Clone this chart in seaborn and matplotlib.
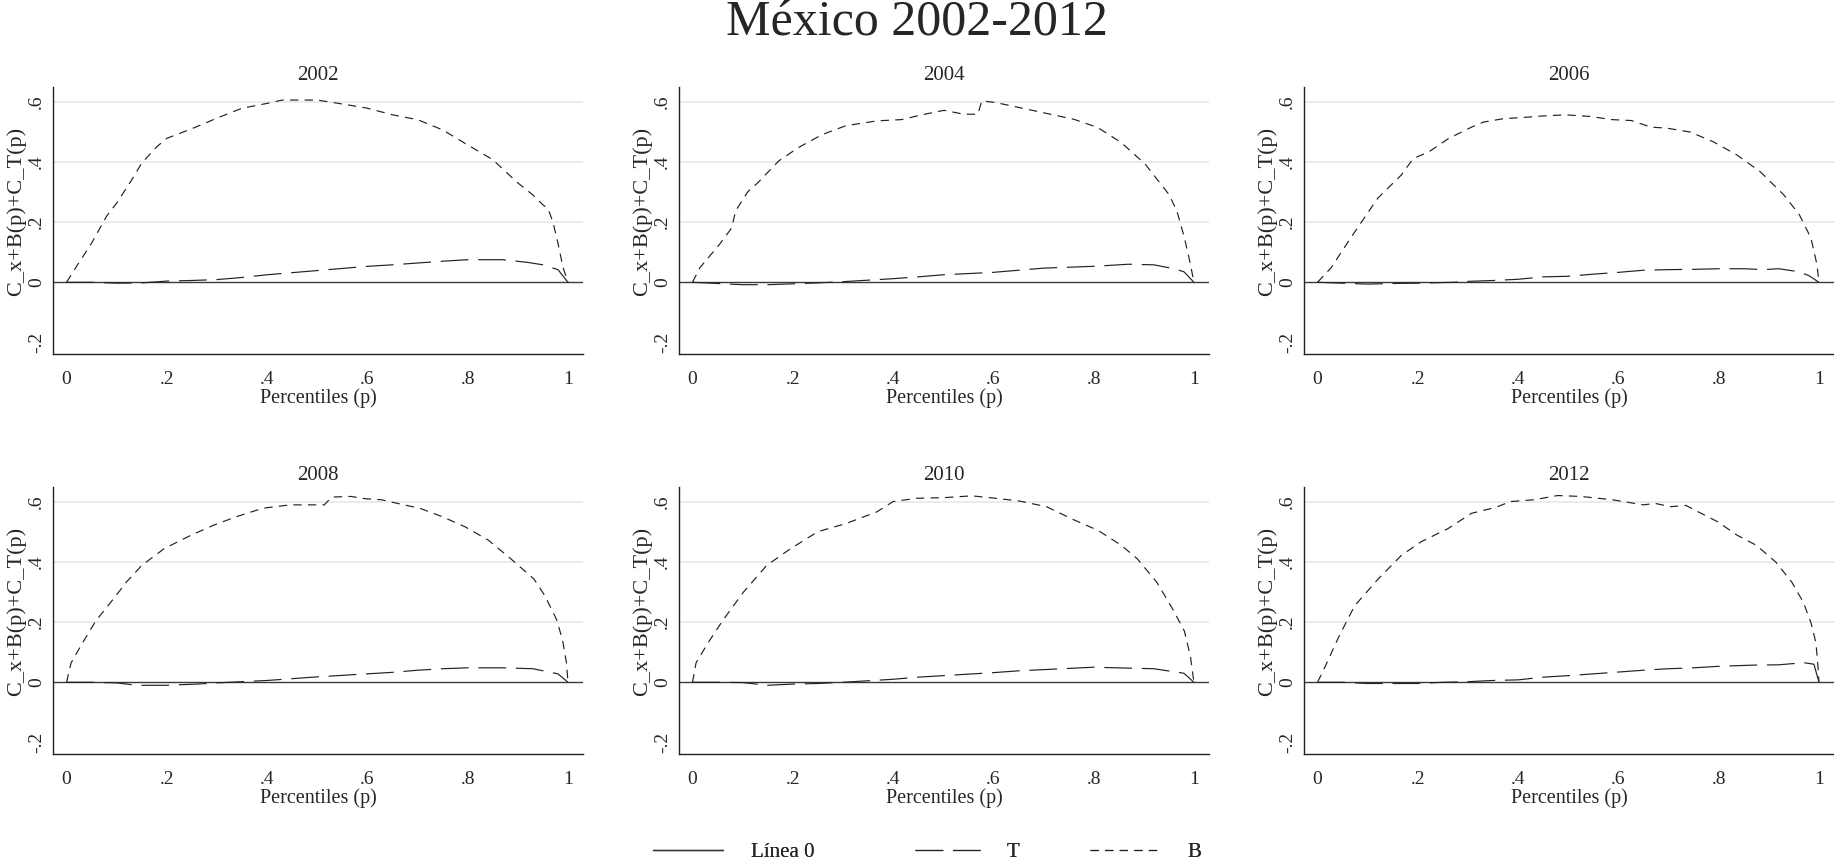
import matplotlib
matplotlib.use("Agg")
import matplotlib.pyplot as plt
import seaborn as sns
import pandas as pd
from matplotlib.lines import Line2D

# ---------------- data ----------------
years = ["2002", "2004", "2006", "2008", "2010", "2012"]

p_b_2002 = [0, 0.02, 0.05, 0.08, 0.1, 0.13, 0.15, 0.18, 0.2, 0.25, 0.3, 0.35, 0.4, 0.43, 0.5, 0.55,
            0.6, 0.65, 0.7, 0.75, 0.8, 0.85, 0.9, 0.93, 0.95, 0.96, 0.97, 0.98, 0.99, 1.0]
b_2002 = [0, 0.053, 0.13, 0.22, 0.263, 0.34, 0.396, 0.45, 0.478, 0.51, 0.545, 0.578, 0.594, 0.605, 0.605, 0.592,
          0.578, 0.556, 0.54, 0.506, 0.456, 0.407, 0.33, 0.29, 0.257, 0.245, 0.2, 0.13, 0.05, 0]
p_t_2002 = [0, 0.05, 0.1, 0.15, 0.2, 0.25, 0.3, 0.35, 0.4, 0.45, 0.5, 0.55, 0.6, 0.65, 0.7, 0.75, 0.8,
            0.87, 0.92, 0.95, 0.98, 1.0]
t_2002 = [0, 0, -0.003, -0.002, 0.004, 0.006, 0.009, 0.016, 0.025, 0.032, 0.039, 0.046, 0.053, 0.058, 0.064,
          0.07, 0.075, 0.075, 0.066, 0.058, 0.042, 0]

p_b_2004 = [0, 0.015, 0.054, 0.078, 0.086, 0.11, 0.13, 0.172, 0.211, 0.258, 0.306, 0.368, 0.416, 0.463, 0.502,
            0.541, 0.569, 0.577, 0.604, 0.683, 0.761, 0.808, 0.855, 0.903, 0.934, 0.95, 0.966, 0.981, 0.993, 1.0]
b_2004 = [0, 0.049, 0.126, 0.18, 0.237, 0.30, 0.33, 0.403, 0.447, 0.49, 0.52, 0.536, 0.54, 0.558, 0.571,
          0.558, 0.558, 0.602, 0.597, 0.569, 0.541, 0.514, 0.464, 0.392, 0.326, 0.292, 0.237, 0.148, 0.06, 0]
p_t_2004 = [0, 0.05, 0.1, 0.15, 0.2, 0.25, 0.3, 0.35, 0.4, 0.45, 0.5, 0.55, 0.6, 0.65, 0.7, 0.75, 0.8,
            0.87, 0.92, 0.96, 0.98, 1.0]
t_2004 = [0, -0.004, -0.008, -0.008, -0.005, -0.002, 0.002, 0.007, 0.012, 0.018, 0.025, 0.029, 0.033, 0.04,
          0.047, 0.05, 0.053, 0.06, 0.058, 0.045, 0.035, 0]

p_b_2006 = [0, 0.027, 0.066, 0.12, 0.167, 0.191, 0.222, 0.261, 0.307, 0.331, 0.37, 0.416, 0.447, 0.494, 0.541,
            0.588, 0.626, 0.665, 0.696, 0.743, 0.79, 0.837, 0.883, 0.93, 0.961, 0.984, 0.996, 1.0]
b_2006 = [0, 0.048, 0.147, 0.279, 0.356, 0.411, 0.433, 0.477, 0.515, 0.532, 0.543, 0.548, 0.552, 0.556, 0.551,
          0.54, 0.537, 0.515, 0.512, 0.499, 0.466, 0.422, 0.367, 0.29, 0.224, 0.147, 0.059, 0]
p_t_2006 = [0, 0.05, 0.1, 0.15, 0.2, 0.27, 0.3, 0.35, 0.4, 0.45, 0.5, 0.55, 0.6, 0.65, 0.7, 0.75, 0.8,
            0.85, 0.89, 0.92, 0.96, 0.98, 1.0]
t_2006 = [0, -0.003, -0.006, -0.004, -0.003, 0, 0.003, 0.006, 0.01, 0.018, 0.02, 0.027, 0.033, 0.04, 0.042,
          0.043, 0.045, 0.045, 0.042, 0.045, 0.035, 0.022, 0]

p_b_2008 = [0, 0.009, 0.028, 0.058, 0.096, 0.119, 0.15, 0.195, 0.248, 0.294, 0.339, 0.392, 0.446, 0.514,
            0.529, 0.567, 0.598, 0.628, 0.673, 0.704, 0.749, 0.795, 0.841, 0.886, 0.932, 0.954, 0.977, 0.989,
            0.997, 1.0]
b_2008 = [0, 0.064, 0.12, 0.203, 0.282, 0.332, 0.388, 0.444, 0.488, 0.522, 0.55, 0.578, 0.589, 0.589,
          0.615, 0.617, 0.609, 0.606, 0.589, 0.578, 0.55, 0.516, 0.472, 0.41, 0.343, 0.287, 0.209, 0.142,
          0.064, 0]
p_t_2008 = [0, 0.05, 0.1, 0.14, 0.2, 0.26, 0.3, 0.35, 0.4, 0.45, 0.5, 0.55, 0.6, 0.65, 0.7, 0.75, 0.8,
            0.87, 0.93, 0.98, 1.0]
t_2008 = [0, 0, -0.002, -0.01, -0.01, -0.006, -0.002, 0.002, 0.006, 0.012, 0.018, 0.023, 0.028, 0.033,
          0.04, 0.045, 0.048, 0.048, 0.045, 0.028, 0]

p_b_2010 = [0, 0.007, 0.031, 0.062, 0.101, 0.148, 0.196, 0.25, 0.306, 0.368, 0.4, 0.447, 0.502, 0.557,
            0.604, 0.651, 0.706, 0.761, 0.808, 0.855, 0.887, 0.926, 0.958, 0.981, 0.993, 1.0]
b_2010 = [0, 0.064, 0.131, 0.209, 0.298, 0.388, 0.444, 0.5, 0.527, 0.566, 0.6, 0.611, 0.613, 0.619,
          0.611, 0.602, 0.583, 0.539, 0.505, 0.455, 0.41, 0.332, 0.242, 0.17, 0.086, 0]
p_t_2010 = [0, 0.05, 0.1, 0.15, 0.2, 0.25, 0.3, 0.35, 0.4, 0.45, 0.5, 0.55, 0.6, 0.65, 0.7, 0.75, 0.8,
            0.87, 0.92, 0.98, 1.0]
t_2010 = [0, 0, -0.001, -0.01, -0.006, -0.004, 0, 0.005, 0.01, 0.017, 0.022, 0.027, 0.032, 0.038, 0.042,
          0.046, 0.05, 0.047, 0.045, 0.03, 0]

p_b_2012 = [0, 0.012, 0.043, 0.074, 0.121, 0.167, 0.206, 0.261, 0.307, 0.354, 0.385, 0.432, 0.479, 0.525,
            0.588, 0.65, 0.673, 0.704, 0.735, 0.759, 0.798, 0.837, 0.875, 0.914, 0.946, 0.969, 0.984, 0.994,
            0.998, 1.0]
b_2012 = [0, 0.041, 0.153, 0.254, 0.343, 0.421, 0.466, 0.511, 0.561, 0.58, 0.6, 0.606, 0.62, 0.617,
          0.606, 0.589, 0.594, 0.583, 0.587, 0.566, 0.533, 0.488, 0.455, 0.399, 0.332, 0.265, 0.198, 0.131,
          0.053, 0]
p_t_2012 = [0, 0.05, 0.1, 0.15, 0.2, 0.25, 0.3, 0.35, 0.4, 0.45, 0.5, 0.55, 0.6, 0.65, 0.7, 0.75, 0.8,
            0.87, 0.92, 0.97, 0.99, 1.0]
t_2012 = [0, 0, -0.004, -0.004, -0.004, 0, 0.002, 0.006, 0.008, 0.017, 0.022, 0.028, 0.034, 0.04, 0.045,
          0.048, 0.053, 0.057, 0.058, 0.065, 0.06, 0]

zero_level = 0.0

x_ticks = [0, 0.2, 0.4, 0.6, 0.8, 1.0]
x_ticklabels = ["0", ".2", ".4", ".6", ".8", "1"]
y_ticks = [-0.2, 0, 0.2, 0.4, 0.6]
y_ticklabels = ["-.2", "0", ".2", ".4", ".6"]
grid_levels = [0.2, 0.4, 0.6]

title = "México 2002-2012"
x_label = "Percentiles (p)"
y_label = "C_x+B(p)+C_T(p)"
legend_labels = ["Línea 0", "T", "B"]

series = {
    "2002": (p_b_2002, b_2002, p_t_2002, t_2002),
    "2004": (p_b_2004, b_2004, p_t_2004, t_2004),
    "2006": (p_b_2006, b_2006, p_t_2006, t_2006),
    "2008": (p_b_2008, b_2008, p_t_2008, t_2008),
    "2010": (p_b_2010, b_2010, p_t_2010, t_2010),
    "2012": (p_b_2012, b_2012, p_t_2012, t_2012),
}

# ---------------- style ----------------
sns.set_theme(style="white")
plt.rcParams["font.family"] = ["Liberation Serif", "DejaVu Serif"]
plt.rcParams["axes.edgecolor"] = "#222222"
plt.rcParams["lines.scale_dashes"] = False

zero_col = "#3a3a3a"
curve_col = "#222222"
LW = 0.85
B_DASH = (6.0, 4.5)
T_DASH = (20.0, 7.0)

fig = plt.figure(figsize=(18.34, 8.6), dpi=100)

lefts = [0.0289, 0.3702, 0.711]
width = 0.289
bottoms = [0.5884, 0.1233]
height = 0.311

for i, yr in enumerate(years):
    r, c = divmod(i, 3)
    ax = fig.add_axes([lefts[c], bottoms[r], width, height])
    pb, bv, pt, tv = series[yr]
    for g in grid_levels:
        ax.axhline(g, color="#e8e8e8", lw=1.2, zorder=0)
    ax.axhline(zero_level, color=zero_col, lw=1.0, zorder=2)
    dfb = pd.DataFrame({"p": pb, "v": bv})
    dft = pd.DataFrame({"p": pt, "v": tv})
    sns.lineplot(data=dft, x="p", y="v", ax=ax, color=curve_col, lw=LW,
                 estimator=None, sort=False)
    ax.lines[-1].set_dashes(T_DASH)
    sns.lineplot(data=dfb, x="p", y="v", ax=ax, color=curve_col, lw=LW,
                 estimator=None, sort=False)
    ax.lines[-1].set_dashes(B_DASH)

    ax.set_xlim(-0.027, 1.03)
    ax.set_ylim(-0.238, 0.65)
    ax.set_xticks(x_ticks)
    ax.set_xticklabels(x_ticklabels)
    ax.set_yticks(y_ticks)
    ax.set_yticklabels(y_ticklabels, rotation=90, va="center")
    ax.tick_params(axis="both", which="major", length=5, width=0.9, color="#222222",
                   labelsize=14, direction="out")
    ax.tick_params(axis="x", pad=7.5)
    ax.tick_params(axis="y", pad=0.8)
    for s in ["top", "right"]:
        ax.spines[s].set_visible(False)
    for s in ["left", "bottom"]:
        ax.spines[s].set_linewidth(1.0)
    ax.set_title(yr, fontsize=15, pad=5)
    ax.set_xlabel(x_label, fontsize=14.5, labelpad=0)
    ax.set_ylabel(y_label, fontsize=16)
    ax.yaxis.set_label_coords(-0.05, 0.533)

fig.text(0.5, 0.959, title, fontsize=36, ha="center", va="baseline")

handles = [
    Line2D([0], [0], color=zero_col, lw=1.0),
    Line2D([0], [0], color=curve_col, lw=LW, dashes=T_DASH),
    Line2D([0], [0], color=curve_col, lw=LW, dashes=B_DASH),
]
leg_x = [0.356, 0.4989, 0.5943]
leg_pad = [1.35, 1.05, 1.3]
for h, lab, lx, tp in zip(handles, legend_labels, leg_x, leg_pad):
    lg = fig.legend([h], [lab], loc="center left", bbox_to_anchor=(lx, 0.0085),
                    frameon=False, fontsize=15, handlelength=3.37, handletextpad=tp,
                    borderpad=0, borderaxespad=0)
    fig.add_artist(lg)

fig.savefig("out.png", dpi=100)
